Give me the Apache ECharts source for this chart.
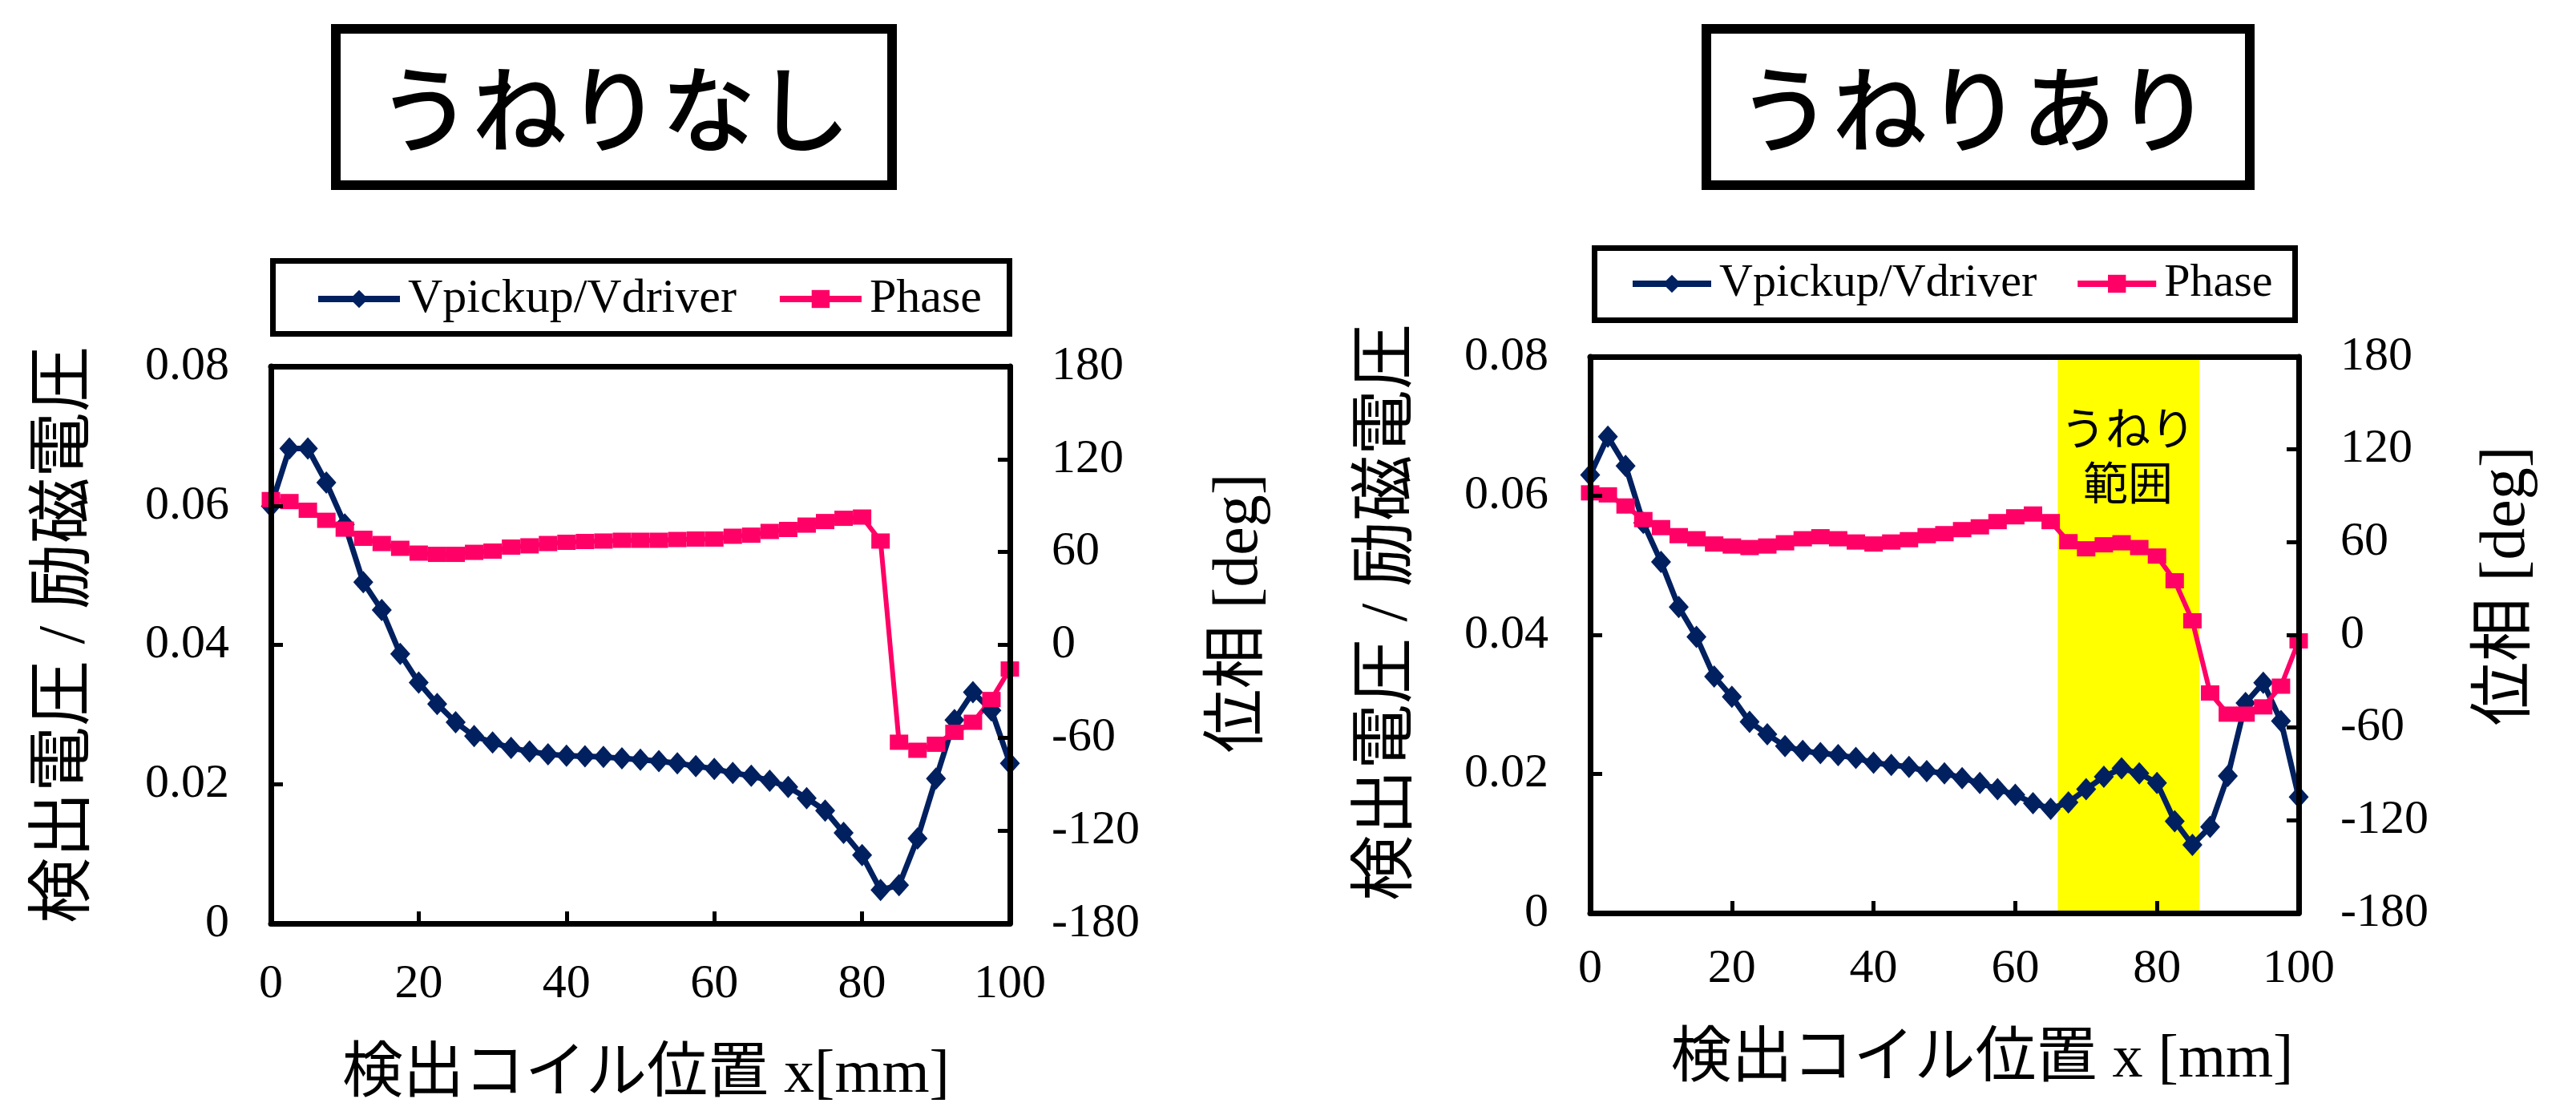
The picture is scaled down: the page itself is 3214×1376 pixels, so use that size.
<!DOCTYPE html>
<html>
<head>
<meta charset="utf-8">
<script src="https://cdn.jsdelivr.net/npm/echarts@6/dist/echarts.min.js"></script>
<style>
html,body{margin:0;padding:0;background:#fff;}
#c{width:3214px;height:1376px;}
</style>
</head>
<body>
<div id="c"></div>
<script>
// ---- data ----
const xPos = [0,2.5,5,7.5,10,12.5,15,17.5,20,22.5,25,27.5,30,32.5,35,37.5,40,42.5,45,47.5,50,52.5,55,57.5,60,62.5,65,67.5,70,72.5,75,77.5,80,82.5,85,87.5,90,92.5,95,97.5,100];
// うねりなし
const ratioFlat = [0.0599,0.0682,0.0682,0.0633,0.0573,0.0490,0.0450,0.0387,0.0346,0.0315,0.0289,0.0269,0.0260,0.0252,0.0247,0.0243,0.0241,0.0240,0.0239,0.0237,0.0235,0.0233,0.0230,0.0226,0.0222,0.0216,0.0212,0.0205,0.0196,0.0180,0.0162,0.0130,0.0098,0.0048,0.0055,0.0122,0.0208,0.0292,0.0332,0.0306,0.0230];
const phaseFlat = [93.9,92.6,87.0,80.5,74.8,68.9,65.5,62.4,59.3,58.5,58.5,59.8,60.6,63.2,64.0,65.5,66.3,66.8,67.1,67.6,67.6,67.6,68.1,68.4,68.4,70.2,70.9,73.3,74.6,77.4,79.7,81.8,82.6,67.1,-62.9,-68.1,-64.2,-56.5,-50.0,-35.3,-15.6];
// うねりあり
const ratioWavy = [0.0630,0.0685,0.0643,0.0561,0.0505,0.0440,0.0397,0.0340,0.0311,0.0275,0.0257,0.0240,0.0233,0.0230,0.0227,0.0223,0.0216,0.0213,0.0210,0.0204,0.0201,0.0194,0.0187,0.0178,0.0170,0.0158,0.0150,0.0159,0.0178,0.0196,0.0208,0.0201,0.0187,0.0132,0.0098,0.0124,0.0197,0.0302,0.0331,0.0276,0.0167];
const phaseWavy = [91.9,90.6,83.4,74.6,69.4,64.2,62.2,58.8,57.5,56.5,57.5,59.6,62.2,63.5,62.2,60.1,58.8,60.1,61.6,64.2,65.5,68.1,69.9,73.3,76.4,78.2,73.3,60.3,55.7,58.3,59.6,56.5,51.0,35.0,9.1,-37.6,-51.3,-51.3,-46.6,-33.2,-3.9];
const waveRange = [66, 86];
const seriesNames = ['Vpickup/Vdriver', 'Phase'];
const panelTitles = ['うねりなし', 'うねりあり'];
const xTitles = ['検出コイル位置 x[mm]', '検出コイル位置 x [mm]'];
const yLeftTitle = '検出電圧 / 励磁電圧';
const yRightTitle = '位相 [deg]';
const waveLabel = 'うねり\n範囲';

// ---- styling ----
const SERIF = '"Liberation Serif", "Times New Roman", "Noto Sans CJK JP", serif';
const SANS = '"Noto Sans CJK JP", sans-serif';
const NAVY = '#002060';
const PINK = '#FF0066';

const pair = (xs, ys) => xs.map((x, i) => [x, ys[i]]);

function xAxes(gi, margin) {
  return [
    {gridIndex: gi, type: 'value', min: 0, max: 100, interval: 20, position: 'bottom', z: 10,
     axisLine: {show: true, onZero: false, lineStyle: {color: '#000', width: 7}},
     axisTick: {show: true, inside: true, length: 15, lineStyle: {color: '#000', width: 5}},
     axisLabel: {margin: margin, color: '#000', fontFamily: SERIF, fontSize: 60},
     splitLine: {show: false}},
    {gridIndex: gi, type: 'value', min: 0, max: 100, position: 'top', z: 10,
     axisLine: {show: true, onZero: false, lineStyle: {color: '#000', width: 7}},
     axisTick: {show: false}, axisLabel: {show: false}, splitLine: {show: false}}
  ];
}
function yAxes(gi) {
  return [
    {gridIndex: gi, type: 'value', min: 0, max: 0.08, interval: 0.02, position: 'left', z: 10,
     axisLine: {show: true, onZero: false, lineStyle: {color: '#000', width: 7}},
     axisTick: {show: true, inside: true, length: 15, lineStyle: {color: '#000', width: 5}},
     axisLabel: {margin: 52, color: '#000', fontFamily: SERIF, fontSize: 60},
     splitLine: {show: false}},
    {gridIndex: gi, type: 'value', min: -180, max: 180, interval: 60, position: 'right', z: 10,
     axisLine: {show: true, onZero: false, lineStyle: {color: '#000', width: 7}},
     axisTick: {show: true, inside: true, length: 15, lineStyle: {color: '#000', width: 5}},
     axisLabel: {margin: 52, color: '#000', fontFamily: SERIF, fontSize: 60},
     splitLine: {show: false}}
  ];
}
function lineSeries(name, xi, yi, data, isRatio, extra) {
  return Object.assign({
    name: name, type: 'line', xAxisIndex: xi, yAxisIndex: yi, data: data,
    symbol: isRatio ? 'diamond' : 'rect',
    symbolSize: isRatio ? [25, 28] : [23, 19],
    showAllSymbol: true,
    lineStyle: {color: isRatio ? NAVY : PINK, width: isRatio ? 7 : 6},
    itemStyle: {color: isRatio ? NAVY : PINK, borderWidth: 0},
    emphasis: {disabled: true}
  }, extra || {});
}
function legendAt(left, top, iw, gap, fs) {
  return {
    left: left, top: top, orient: 'horizontal', padding: 0,
    itemWidth: iw, itemHeight: 28, itemGap: gap,
    data: seriesNames, selectedMode: false,
    lineStyle: {width: 8},
    textStyle: {color: '#000', fontFamily: SERIF, fontSize: fs, lineHeight: 60, padding: [0, 0, 0, 5]}
  };
}
function boxRect(x0, y0, x1, y1, w) {
  return {type: 'rect', z: 50, silent: true,
    shape: {x: x0 + w / 2, y: y0 + w / 2, width: x1 - x0 - w, height: y1 - y0 - w},
    style: {fill: 'none', stroke: '#000', lineWidth: w}};
}
function txt(x, y, text, font, rot) {
  return {type: 'text', z: 60, silent: true, x: x, y: y, rotation: rot || 0,
    style: {text: text, font: font, fill: '#000', align: 'center', verticalAlign: 'middle'}};
}

const option = {
  animation: false,
  backgroundColor: '#fff',
  grid: [
    {left: 338, top: 457, width: 922, height: 695, show: false},
    {left: 1984, top: 445, width: 884, height: 694, show: false}
  ],
  xAxis: [].concat(xAxes(0, 46), xAxes(1, 40)),
  yAxis: [].concat(yAxes(0), yAxes(1)),
  legend: [legendAt(393, 343, 102, 50, 60), legendAt(2033, 324, 98, 47, 58)],
  series: [
    lineSeries(seriesNames[0], 0, 0, pair(xPos, ratioFlat), true),
    lineSeries(seriesNames[1], 0, 1, pair(xPos, phaseFlat), false),
    lineSeries(seriesNames[0], 2, 2, pair(xPos, ratioWavy), true, {
      markArea: {silent: true, itemStyle: {color: '#FFFF00', opacity: 1}, label: {show: false},
        data: [[{xAxis: waveRange[0]}, {xAxis: waveRange[1]}]]}
    }),
    lineSeries(seriesNames[1], 2, 3, pair(xPos, phaseWavy), false)
  ],
  graphic: [
    boxRect(413, 30, 1119, 237, 12),
    boxRect(2123, 30, 2813, 237, 12),
    boxRect(337, 322, 1263, 420, 7),
    boxRect(1986, 306, 2867, 403, 7),
    txt(766, 136, panelTitles[0], '500 118px ' + SANS),
    txt(2463, 136, panelTitles[1], '500 118px ' + SANS),
    txt(806, 1342, xTitles[0], '76px ' + SERIF),
    txt(2473, 1323, xTitles[1], '76px ' + SERIF),
    txt(82, 792, yLeftTitle, '82px ' + SERIF, Math.PI / 2),
    txt(1547, 765, yRightTitle, '80px ' + SERIF, Math.PI / 2),
    txt(1732, 764, yLeftTitle, '82px ' + SERIF, Math.PI / 2),
    txt(3128, 731, yRightTitle, '80px ' + SERIF, Math.PI / 2),
    {type: 'text', z: 60, silent: true, x: 2655, y: 568,
     style: {text: waveLabel, font: '56px ' + SANS, fill: '#000', align: 'center', verticalAlign: 'middle', lineHeight: 68}}
  ]
};

const chart = echarts.init(document.getElementById('c'), null, {renderer: 'canvas', width: 3214, height: 1376});
chart.setOption(option);
</script>
</body>
</html>
